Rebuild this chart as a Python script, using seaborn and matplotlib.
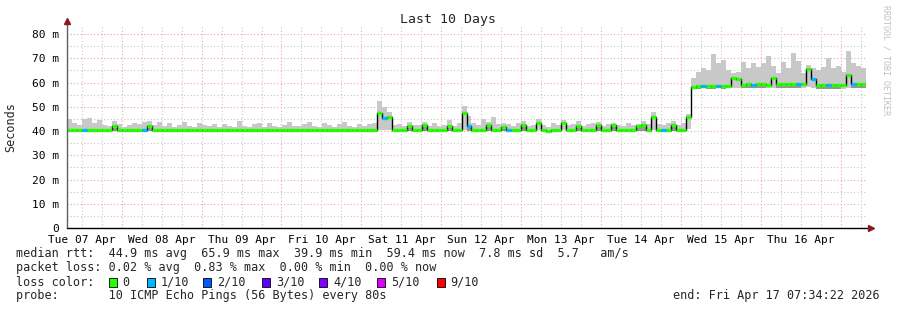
import numpy as np
import pandas as pd
import matplotlib
matplotlib.use("Agg")
import matplotlib.pyplot as plt
import seaborn as sns
from matplotlib.patches import Rectangle

# ---------------- data ----------------
t_start = 7.57          # hours after Tue 07 Apr 00:00
step = 1.5              # hours per sample
median = [
    40.5, 40.5, 40.5, 40.5, 40.5, 40.5, 40.5, 40.5, 40.6, 42.0,
    40.5, 40.3, 40.3, 40.3, 40.3, 40.5, 42.0, 40.3, 40.3, 40.3,
    40.3, 40.3, 40.5, 40.3, 40.3, 40.3, 40.3, 40.3, 40.3, 40.3,
    40.3, 40.3, 40.3, 40.3, 40.3, 40.3, 40.3, 40.3, 40.3, 40.3,
    40.3, 40.3, 40.3, 40.3, 40.3, 40.3, 40.3, 40.3, 40.3, 40.3,
    40.3, 40.3, 40.3, 40.3, 40.3, 40.3, 40.3, 40.3, 40.3, 40.3,
    40.3, 40.5, 47.3, 45.3, 45.7, 40.5, 40.3, 40.3, 42.0, 40.3,
    40.3, 42.5, 40.3, 40.3, 40.3, 40.3, 42.0, 40.3, 40.3, 47.3,
    42.0, 40.3, 40.3, 40.3, 42.5, 40.3, 40.3, 41.5, 40.5, 40.3,
    40.3, 42.5, 40.3, 40.3, 43.3, 40.3, 39.9, 40.3, 40.3, 43.3,
    40.3, 40.3, 42.0, 40.3, 40.3, 40.3, 42.5, 40.3, 40.3, 42.3,
    40.3, 40.3, 40.3, 40.3, 42.0, 42.5, 40.3, 45.8, 40.3, 40.5,
    40.3, 42.5, 40.3, 40.3, 45.8, 58.1, 58.5, 58.6, 58.5, 58.4,
    58.6, 58.5, 58.7, 62.0, 61.3, 58.8, 59.2, 59.1, 59.2, 59.2,
    59.1, 61.8, 59.3, 59.2, 59.2, 59.3, 59.2, 59.3, 65.7, 61.5,
    59.0, 58.9, 58.9, 58.9, 58.8, 58.9, 62.9, 59.3, 59.3, 59.4,
]
smoke_hi = [
    44.8, 43.2, 42.6, 44.9, 45.2, 43.5, 44.6, 42.4, 41.9, 44.2,
    43.0, 41.6, 42.3, 43.4, 42.8, 43.9, 44.0, 42.5, 43.6, 42.1,
    43.2, 41.8, 42.6, 43.8, 42.2, 41.7, 43.1, 42.4, 41.9, 42.8,
    41.6, 43.0, 42.2, 41.8, 44.3, 42.1, 41.7, 42.9, 43.2, 41.8,
    43.5, 42.0, 41.7, 42.6, 43.9, 42.2, 41.9, 42.8, 43.6, 42.1,
    41.8, 43.3, 42.5, 41.7, 42.9, 43.8, 42.0, 41.6, 42.7, 42.2,
    43.0, 43.5, 52.5, 50.0, 48.0, 42.5, 43.0, 42.0, 43.6, 42.3,
    42.5, 43.8, 42.0, 43.3, 42.1, 42.6, 44.4, 42.0, 43.2, 50.5,
    46.0, 43.2, 42.4, 44.8, 43.6, 45.6, 42.7, 43.5, 42.8, 42.0,
    43.1, 44.2, 42.2, 42.6, 45.0, 42.4, 41.8, 43.2, 42.3, 44.6,
    42.5, 43.0, 44.2, 42.1, 42.8, 43.5, 43.6, 42.2, 42.9, 43.4,
    42.3, 42.0, 43.5, 42.6, 43.0, 44.2, 43.0, 48.0, 42.8, 42.5,
    43.1, 44.3, 42.4, 43.2, 47.0, 62.0, 64.4, 65.8, 65.0, 71.7,
    67.9, 69.3, 65.0, 64.0, 64.5, 68.6, 66.0, 68.0, 66.5, 68.0,
    70.9, 67.0, 64.0, 68.6, 66.0, 72.0, 69.0, 64.0, 67.2, 66.0,
    65.0, 66.5, 70.0, 66.0, 67.0, 64.5, 73.1, 68.0, 67.0, 66.0,
]
smoke_lo = [
    40.1, 40.1, 40.1, 40.1, 40.1, 40.1, 40.1, 40.1, 40.1, 40.2,
    40.1, 40.0, 40.0, 40.0, 40.0, 40.1, 40.2, 40.0, 40.0, 40.0,
    40.0, 40.0, 40.1, 40.0, 40.0, 40.0, 40.0, 40.0, 40.0, 40.0,
    40.0, 40.0, 40.0, 40.0, 40.0, 40.0, 40.0, 40.0, 40.0, 40.0,
    40.0, 40.0, 40.0, 40.0, 40.0, 40.0, 40.0, 40.0, 40.0, 40.0,
    40.0, 40.0, 40.0, 40.0, 40.0, 40.0, 40.0, 40.0, 40.0, 40.0,
    40.0, 40.1, 40.5, 40.4, 40.3, 40.1, 40.0, 40.0, 40.2, 40.0,
    40.0, 40.2, 40.0, 40.0, 40.0, 40.0, 40.2, 40.0, 40.0, 40.5,
    40.2, 40.0, 40.0, 40.0, 40.2, 40.0, 40.0, 40.1, 40.1, 40.0,
    40.0, 40.2, 40.0, 40.0, 40.3, 40.0, 39.7, 40.0, 40.0, 40.3,
    40.0, 40.0, 40.2, 40.0, 40.0, 40.0, 40.2, 40.0, 40.0, 40.2,
    40.0, 40.0, 40.0, 40.0, 40.2, 40.2, 40.0, 40.6, 40.0, 40.1,
    40.0, 40.2, 40.0, 40.0, 41.0, 57.3, 57.5, 57.6, 57.5, 57.4,
    57.6, 57.5, 57.6, 57.8, 57.7, 57.6, 57.8, 57.7, 57.8, 57.8,
    57.7, 57.9, 57.8, 57.8, 57.7, 57.8, 57.8, 57.8, 58.2, 57.9,
    57.5, 57.4, 57.4, 57.4, 57.3, 57.4, 57.8, 57.6, 57.6, 57.7,
]
loss_idx = [3, 15, 63, 80, 88, 119, 127, 130, 137, 146, 149, 152, 157]
loss_cnt = [1, 1, 1, 1, 1, 1, 1, 1, 1, 1, 1, 1, 1]

day_labels = ["Tue 07 Apr", "Wed 08 Apr", "Thu 09 Apr", "Fri 10 Apr", "Sat 11 Apr",
              "Sun 12 Apr", "Mon 13 Apr", "Tue 14 Apr", "Wed 15 Apr", "Thu 16 Apr"]
y_ticks = [0, 10, 20, 30, 40, 50, 60, 70, 80]
y_labels = ["0", "10 m", "20 m", "30 m", "40 m", "50 m", "60 m", "70 m", "80 m"]

loss_colors = ["#26ff00", "#00b8ff", "#0059ff", "#5e00ff", "#7e00ff", "#dd00ff", "#ff0000"]
loss_names = ["0", "1/10", "2/10", "3/10", "4/10", "5/10", "9/10"]

legend_lines = [
    "median rtt:  44.9 ms avg  65.9 ms max  39.9 ms min  59.4 ms now  7.8 ms sd  5.7   am/s",
    "packet loss: 0.02 % avg  0.83 % max  0.00 % min  0.00 % now",
    "loss color:",
    "probe:       10 ICMP Echo Pings (56 Bytes) every 80s",
]
end_text = "end: Fri Apr 17 07:34:22 2026"

# ---------------- build ----------------
n = len(median)
t = t_start + step * np.arange(n)
loss = np.zeros(n, dtype=int)
for i, c in zip(loss_idx, loss_cnt):
    loss[i] = c
df = pd.DataFrame({"t": t, "median": median, "hi": smoke_hi, "lo": smoke_lo, "loss": loss})

sns.set_theme(style="white")
plt.rcParams["font.family"] = ["DejaVu Sans Mono"]

W, H = 897, 310
fig = plt.figure(figsize=(W / 100, H / 100), dpi=100)
fig.patch.set_facecolor("white")
ax_left, ax_right, ax_bottom, ax_top = 67, 866, 228, 26
ax = fig.add_axes([ax_left / W, 1 - ax_bottom / H, (ax_right - ax_left) / W, (ax_bottom - ax_top) / H])
ax.set_facecolor("white")
x0, x1 = t_start, t_start + step * n
ax.set_xlim(x0, x1)
ax.set_ylim(0, 83.3)

# grid
gdot = (0, (1, 2))
for h in np.arange(0, 84, 5):
    if h % 10 == 0:
        ax.axhline(h, color="#f4a0a0", lw=0.8, ls=gdot, zorder=1)
    else:
        ax.axhline(h, color="#c8c8c8", lw=0.8, ls=gdot, zorder=1)
for hr in np.arange(0, 252, 6):
    if x0 < hr < x1:
        if hr % 24 == 0:
            ax.axvline(hr, color="#f4a0a0", lw=0.8, ls=gdot, zorder=1)
        else:
            ax.axvline(hr, color="#c8c8c8", lw=0.8, ls=gdot, zorder=1)

# smoke
te = np.append(df["t"].values, x1)
hi_e = np.append(df["hi"].values, df["hi"].values[-1])
lo_e = np.append(df["lo"].values, df["lo"].values[-1])
md_e = np.append(df["median"].values, df["median"].values[-1])
ax.fill_between(te, lo_e, hi_e, step="post", color="#c8c8c8", lw=0, zorder=2)
near = (md_e - lo_e) < 3
ax.fill_between(te, lo_e, md_e, where=near, step="post", color="#969696", lw=0, zorder=3)

# median
sns.lineplot(x=te, y=md_e, drawstyle="steps-post", color="black", lw=1.0, ax=ax, zorder=4)
seg_col = [loss_colors[c] for c in df["loss"]]
ax.hlines(df["median"], df["t"], df["t"] + step, colors=seg_col, lw=2.4, zorder=5)

# ticks
ax.set_xticks([12 + 24 * k for k in range(len(day_labels))], labels=day_labels)
ax.set_yticks(y_ticks, labels=y_labels)
ax.tick_params(axis="both", length=0, labelsize=8, colors="black")
ax.tick_params(axis="x", pad=5)
ax.tick_params(axis="y", pad=6)
ax.set_xlabel("")
ax.set_ylabel("")
for s in ax.spines.values():
    s.set_visible(False)

# axes lines with arrows
ax.plot([0, 0], [0, 1.025], transform=ax.transAxes, color="#606060", lw=1, clip_on=False, zorder=6)
ax.plot([0, 1.006], [0, 0], transform=ax.transAxes, color="black", lw=1, clip_on=False, zorder=6)
ax.plot([0], [1.025], transform=ax.transAxes, marker="^", color="#8b1a1a", ms=4, clip_on=False, zorder=7)
ax.plot([1.006], [0], transform=ax.transAxes, marker=">", color="#8b1a1a", ms=4, clip_on=False, zorder=7)

# texts
fig.text(448 / W, 1 - 19 / H, "Last 10 Days", ha="center", va="center", fontsize=9.5)
fig.text(11 / W, 1 - 127 / H, "Seconds", ha="center", va="center", rotation=90, fontsize=8.5)
fig.text(886 / W, 1 - 5 / H, "RRDTOOL / TOBI OETIKER", ha="center", va="top", rotation=270,
         fontsize=6, color="#c0c0c0")

rows_y = [254, 268, 282, 296]
for txt, yy in zip(legend_lines, rows_y):
    fig.text(16 / W, 1 - yy / H, txt, ha="left", va="center", fontsize=8.5)
fig.text(880 / W, 1 - 296 / H, end_text, ha="right", va="center", fontsize=8.5)

box_x = [109, 147, 203, 262, 319, 377, 437]
lab_x = [122, 161, 217, 276, 333, 391, 450]
for bx, lx, col, name in zip(box_x, lab_x, loss_colors, loss_names):
    fig.patches.append(Rectangle((bx / W, 1 - 287 / H), 8 / W, 9 / H, transform=fig.transFigure,
                                 facecolor=col, edgecolor="black", lw=0.6))
    fig.text(lx / W, 1 - 282 / H, name, ha="left", va="center", fontsize=8.5)

fig.savefig("out.png", dpi=100, facecolor="white")
